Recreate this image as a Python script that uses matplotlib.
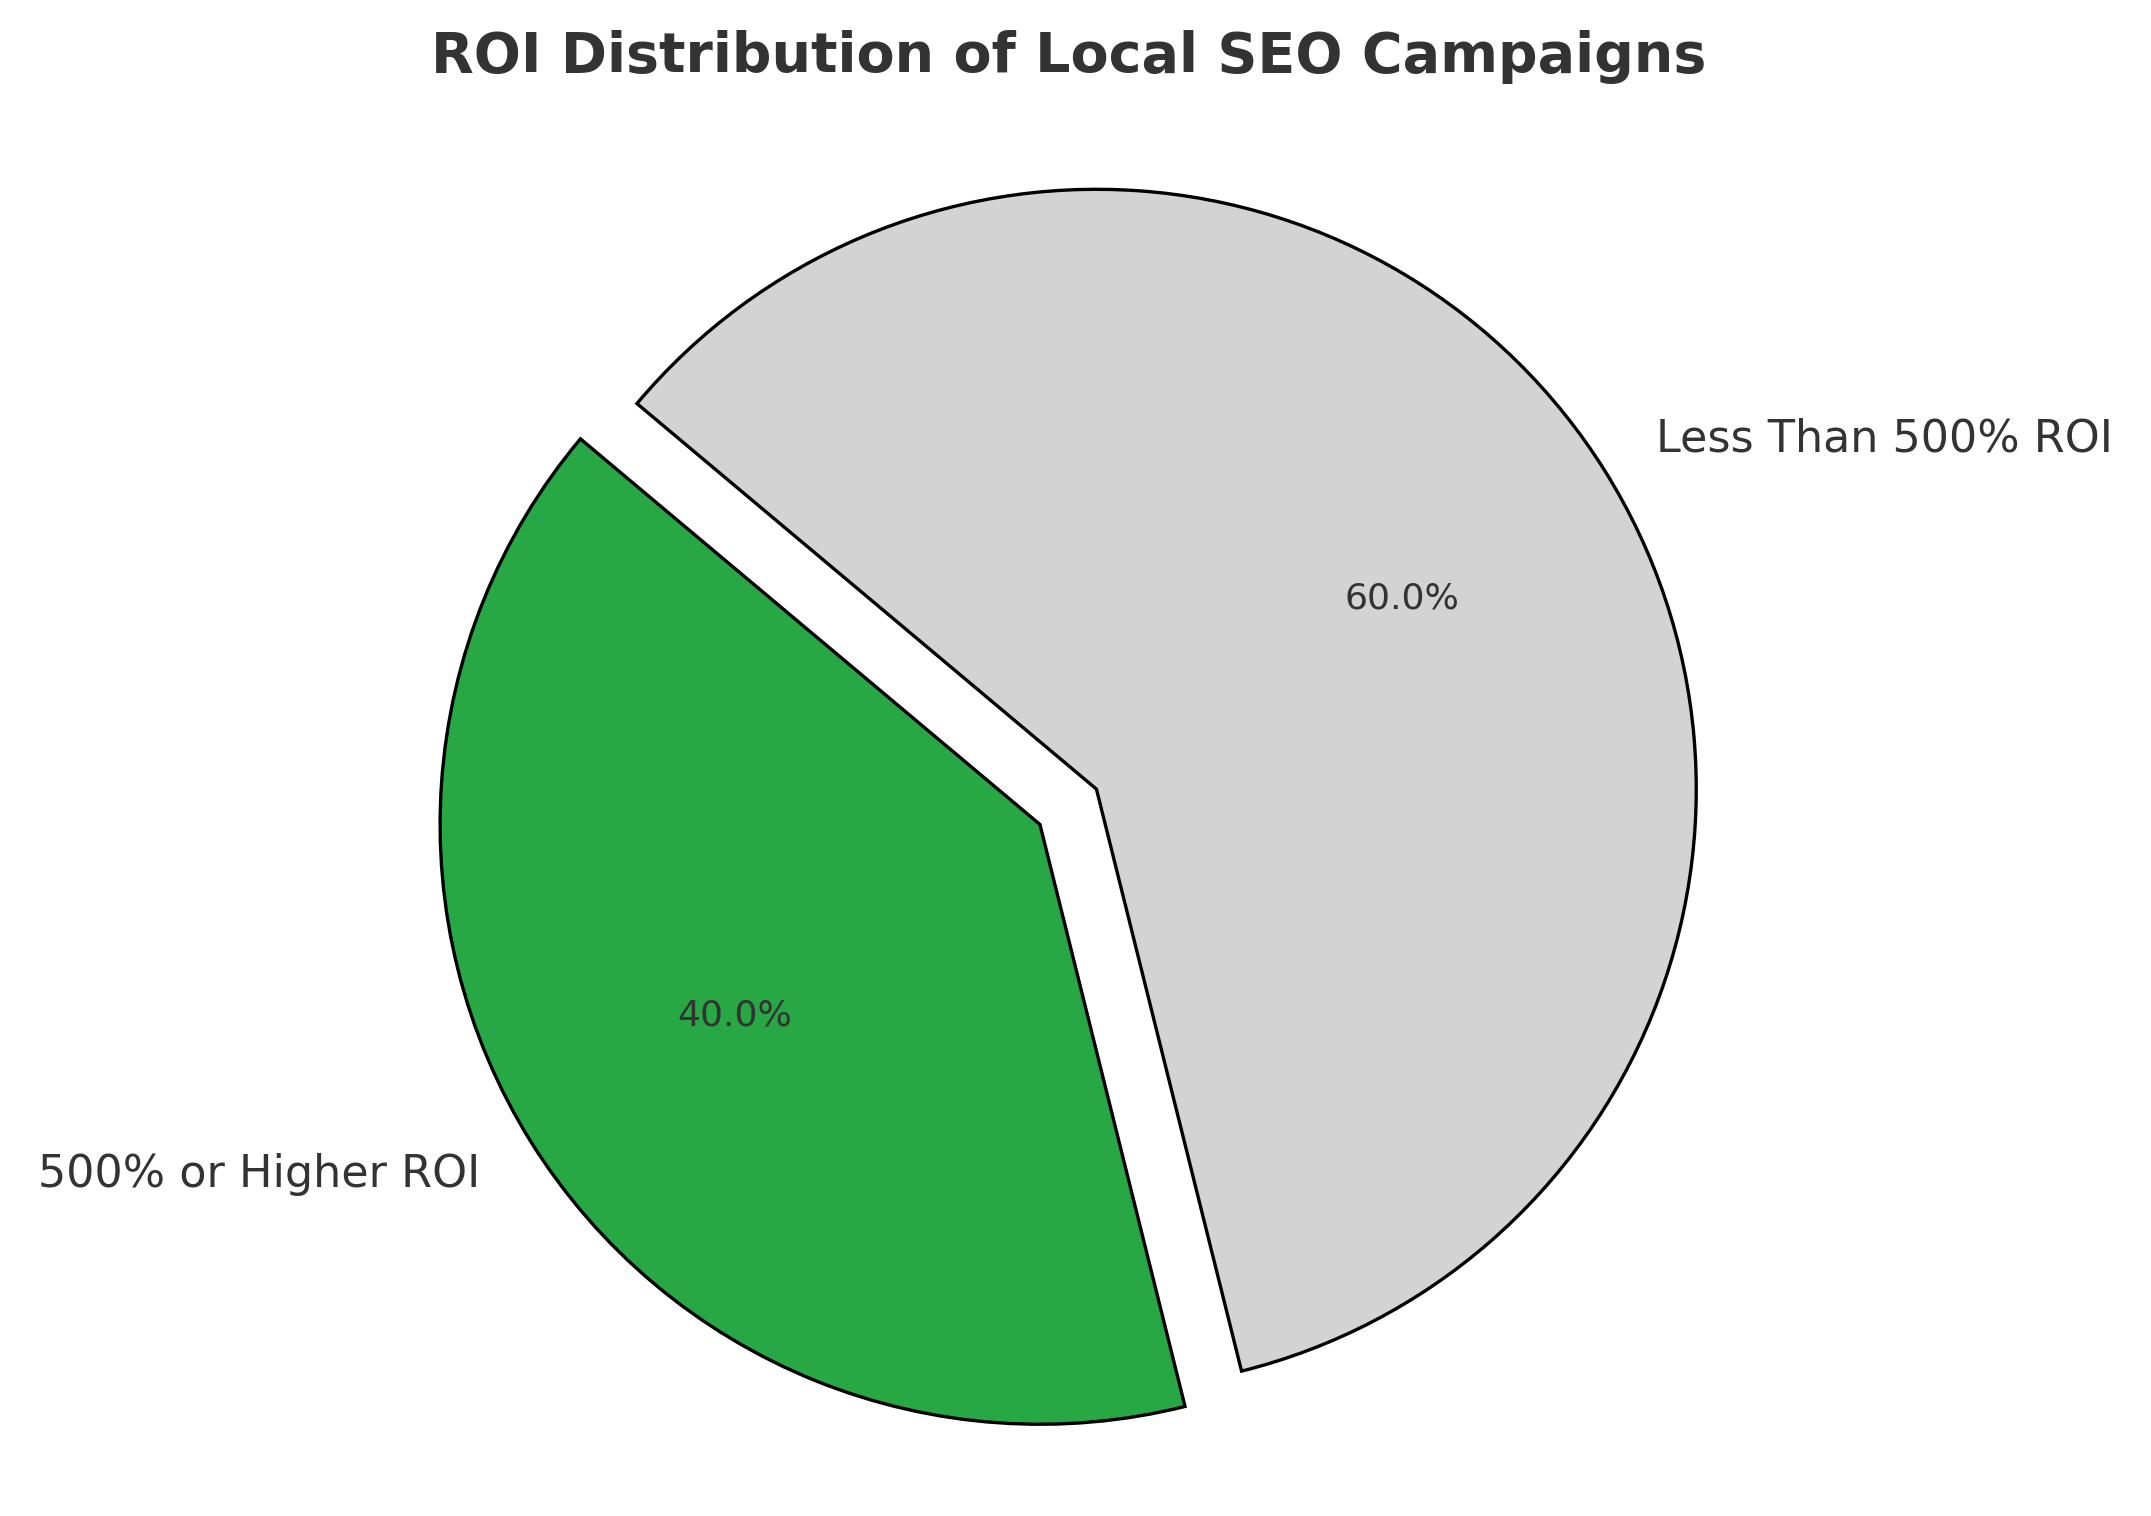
import matplotlib.pyplot as plt

labels = ['500% or Higher ROI', 'Less Than 500% ROI']
shares = [40, 60]
colors = ['#28a745', '#d3d3d3']
explode = [0.1, 0]

plt.rcParams['text.color'] = '#333333'
fig, ax = plt.subplots(figsize=(10.755, 7.58), dpi=200)
wedges, texts, autotexts = ax.pie(
    shares, labels=labels, colors=colors, explode=explode,
    autopct='%1.1f%%', startangle=140, radius=0.9,
    wedgeprops={'edgecolor': 'black', 'linewidth': 1.2},
    textprops={'fontsize': 16, 'color': '#333333'})
for t in autotexts:
    t.set_fontsize(13)
ax.set_title('ROI Distribution of Local SEO Campaigns', fontsize=20,
             fontweight='bold', color='#333333', pad=20)
ax.axis('equal')
plt.tight_layout()
plt.savefig('out.png')
